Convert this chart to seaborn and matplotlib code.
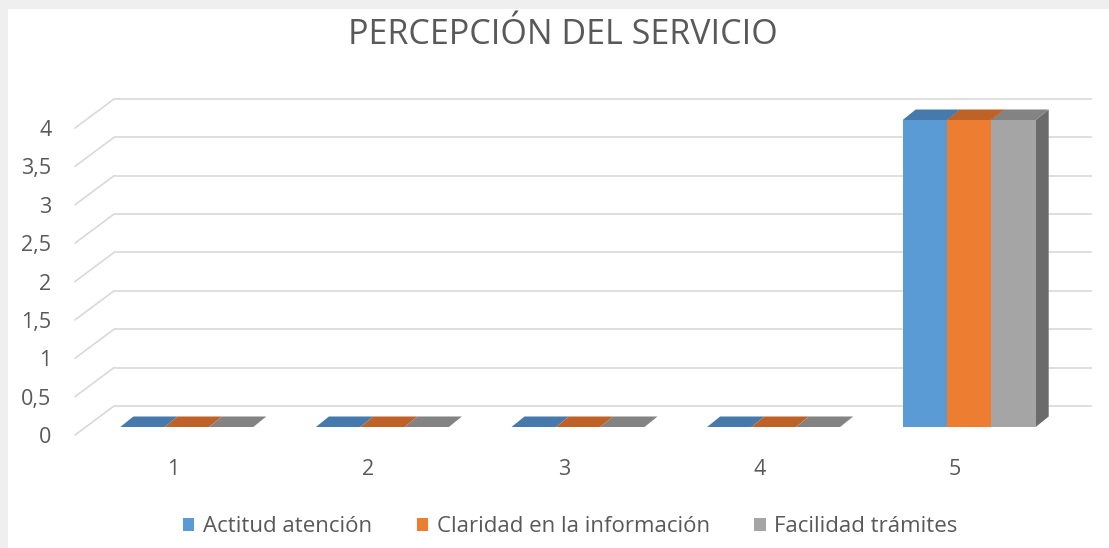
import numpy as np
import pandas as pd
import seaborn as sns
import matplotlib
matplotlib.use("Agg")
import matplotlib.pyplot as plt
from matplotlib.patches import Polygon, Rectangle, Patch

# ---- data ----
categories = ["1", "2", "3", "4", "5"]
series_names = ["Actitud atención", "Claridad en la información", "Facilidad trámites"]
actitud = [0, 0, 0, 0, 4]
claridad = [0, 0, 0, 0, 4]
facilidad = [0, 0, 0, 0, 4]
y_ticks = [0, 0.5, 1, 1.5, 2, 2.5, 3, 3.5, 4]
y_tick_labels = ["0", "0,5", "1", "1,5", "2", "2,5", "3", "3,5", "4"]
title = "PERCEPCIÓN DEL SERVICIO"

front_colors = ["#5B9BD5", "#ED7D31", "#A5A5A5"]
top_colors = ["#467AAD", "#BE6228", "#838383"]
side_colors = ["#3E6A95", "#A0521F", "#6B6B6B"]
text_color = "#595959"
grid_color = "#D9D9D9"

df = pd.DataFrame({
    "categoria": categories * 3,
    "serie": [series_names[0]] * 5 + [series_names[1]] * 5 + [series_names[2]] * 5,
    "valor": actitud + claridad + facilidad,
})

sns.set_theme(style="white")
plt.rcParams['font.family'] = ['Open Sans', 'DejaVu Sans']

W, H = 1109, 548
fig = plt.figure(figsize=(W / 100, H / 100), dpi=100, facecolor="#EFEFEF")
fig.patches.append(Rectangle((8 / W, 0), 1, (H - 9) / H, transform=fig.transFigure,
                             facecolor="white", edgecolor="none", zorder=-5))

left_px, right_px, bot_px, top_px = 75, 1053, 435, 128
ax = fig.add_axes([left_px / W, (H - bot_px) / H, (right_px - left_px) / W, (bot_px - top_px) / H])
ax.set_facecolor("none")
ax.set_zorder(2)

sns.barplot(data=df, x="categoria", y="valor", hue="serie", hue_order=series_names,
            order=categories, palette=front_colors, width=0.68, gap=0, saturation=1,
            linewidth=0, legend=False, ax=ax, errorbar=None)

ax.set_xlim(-0.5, 4.5)
ax.set_ylim(0, 4)

px_x = (right_px - left_px) / 5.0   # pixels per category
px_y = (bot_px - top_px) / 4.0      # pixels per unit

# depth offsets in data units
wall_dx, wall_dy = 39 / px_x, 29 / px_y
bar_ox, bar_oy = 14 / px_x, 8 / px_y
depth_dx, depth_dy = 13 / px_x, 10.5 / px_y

# back wall + side wall gridlines
for v in y_ticks:
    ax.plot([-0.5 + wall_dx, 4.5 + wall_dx], [v + wall_dy, v + wall_dy], color=grid_color,
            lw=1.2, clip_on=False, zorder=1, solid_capstyle="butt")
    ax.plot([-0.5, -0.5 + wall_dx], [v, v + wall_dy], color=grid_color,
            lw=1.2, clip_on=False, zorder=1)

# shift bars to mid-depth and add 3D faces
n_cat = len(categories)
bars = list(ax.patches)
for i, p in enumerate(bars):
    s = i // n_cat
    p.set_x(p.get_x() + bar_ox)
    p.set_y(p.get_y() + bar_oy)
    p.set_clip_on(False)
    p.set_zorder(3)
    x0 = p.get_x()
    x1 = x0 + p.get_width()
    y0 = p.get_y()
    y1 = y0 + p.get_height()
    top = Polygon([(x0, y1), (x1, y1), (x1 + depth_dx, y1 + depth_dy), (x0 + depth_dx, y1 + depth_dy)],
                  closed=True, facecolor=top_colors[s], edgecolor="none", zorder=4, clip_on=False)
    ax.add_patch(top)
    if p.get_height() > 0:
        side = Polygon([(x1, y0), (x1 + depth_dx, y0 + depth_dy), (x1 + depth_dx, y1 + depth_dy), (x1, y1)],
                       closed=True, facecolor=side_colors[s], edgecolor="none", zorder=2, clip_on=False)
        ax.add_patch(side)

for sp in ax.spines.values():
    sp.set_visible(False)
ax.grid(False)
ax.set_xlabel("")
ax.set_ylabel("")
ax.set_yticks(y_ticks)
ax.set_yticklabels(y_tick_labels)
ax.set_xticks(range(n_cat))
ax.set_xticklabels(categories)
ax.tick_params(axis="y", length=0, pad=17, labelsize=15.5, labelcolor=text_color)
ax.tick_params(axis="x", length=0, pad=17, labelsize=15.5, labelcolor=text_color)

fig.text(563 / W, (H - 35) / H, title, ha="center", va="center", fontsize=24.5, color=text_color)

handles = [Patch(facecolor=c, edgecolor="none") for c in front_colors]
leg = fig.legend(handles, series_names, loc="center", bbox_to_anchor=(0.5145, 21 / H), ncol=3,
                 frameon=False, fontsize=16, handlelength=0.5, handleheight=0.5,
                 handletextpad=0.4, columnspacing=2.0)
for t in leg.get_texts():
    t.set_color(text_color)

fig.savefig("out.png", dpi=100, facecolor=fig.get_facecolor())
